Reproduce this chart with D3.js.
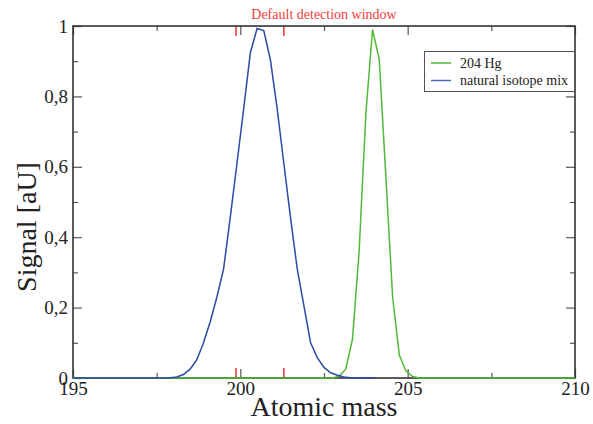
<!DOCTYPE html>
<meta charset="utf-8">
<style>
body { margin: 0; background: #fff; }
svg { display: block; font-family: "Liberation Serif", "DejaVu Serif", serif; }
</style>
<svg width="593" height="424"></svg>
<script src="https://cdn.jsdelivr.net/npm/d3@7"></script>
<script>

// readings (atomic mass, signal)
var mixMass = [195, 197.7, 197.9, 198.1, 198.3, 198.5, 198.7, 198.9, 199.1, 199.3, 199.5, 199.7, 199.9,
               200.1, 200.3, 200.5, 200.7, 200.9, 201.1, 201.3, 201.5, 201.7, 201.9, 202.1, 202.3,
               202.5, 202.7, 202.9, 203.1, 203.3, 203.5, 204];
var mixSignal = [0, 0, 0.001, 0.003, 0.010, 0.025, 0.052, 0.100, 0.160, 0.230, 0.310, 0.457, 0.610,
                 0.765, 0.924, 0.993, 0.987, 0.903, 0.765, 0.610, 0.455, 0.310, 0.205, 0.100, 0.058,
                 0.030, 0.015, 0.008, 0.003, 0.001, 0, 0];

var hgMass = [195, 202.75, 202.95, 203.15, 203.35, 203.55, 203.75, 203.95, 204.15, 204.35, 204.55,
              204.75, 204.95, 205.15, 205.35, 210];
var hgSignal = [0, 0, 0.005, 0.025, 0.110, 0.360, 0.750, 0.990, 0.905, 0.570, 0.230,
                0.065, 0.020, 0.004, 0, 0];

var windowEdges = [199.87, 201.3];

var xMajor = [195, 200, 205, 210],
    xMinor = [197.5, 202.5, 207.5],
    yMajor = [0, 0.2, 0.4, 0.6, 0.8, 1],
    yMinor = [0.1, 0.3, 0.5, 0.7, 0.9];

var svg = d3.select("svg"),
    pL = 73, pR = 575, pT = 26, pB = 378;

var x = d3.scaleLinear().domain([195, 210]).range([pL, pR]),
    y = d3.scaleLinear().domain([0, 1]).range([pB, pT]);

var fmt = function(d) { return String(d).replace(".", ","); };

function styleAxis(g) {
  g.attr("font-family", null).attr("font-size", null);
  g.select(".domain").remove();
  g.selectAll(".tick line").attr("stroke", "#555").attr("stroke-width", 1.2);
  g.selectAll("text").attr("fill", "#222").attr("font-size", 19);
}

// major + minor ticks, all pointing inward
svg.append("g").attr("transform", "translate(0," + pB + ")")
    .call(d3.axisBottom(x).tickValues(xMajor).tickFormat(d3.format("d")).tickSize(-9).tickPadding(4))
    .call(styleAxis);
svg.append("g").attr("transform", "translate(0," + pB + ")")
    .call(d3.axisBottom(x).tickValues(xMinor).tickFormat("").tickSize(-5))
    .call(styleAxis);
svg.append("g").attr("transform", "translate(0," + pT + ")")
    .call(d3.axisTop(x).tickValues(xMajor).tickFormat("").tickSize(-9))
    .call(styleAxis);
svg.append("g").attr("transform", "translate(0," + pT + ")")
    .call(d3.axisTop(x).tickValues(xMinor).tickFormat("").tickSize(-5))
    .call(styleAxis);
svg.append("g").attr("transform", "translate(" + pL + ",0)")
    .call(d3.axisLeft(y).tickValues(yMajor).tickFormat(fmt).tickSize(-9).tickPadding(5))
    .call(styleAxis);
svg.append("g").attr("transform", "translate(" + pL + ",0)")
    .call(d3.axisLeft(y).tickValues(yMinor).tickFormat("").tickSize(-5))
    .call(styleAxis);
svg.append("g").attr("transform", "translate(" + pR + ",0)")
    .call(d3.axisRight(y).tickValues(yMajor).tickFormat("").tickSize(-9))
    .call(styleAxis);
svg.append("g").attr("transform", "translate(" + pR + ",0)")
    .call(d3.axisRight(y).tickValues(yMinor).tickFormat("").tickSize(-5))
    .call(styleAxis);

// detection window marks
windowEdges.forEach(function(m) {
  [[pT, pT + 10], [pB - 10, pB]].forEach(function(s) {
    svg.append("line")
        .attr("x1", x(m)).attr("x2", x(m))
        .attr("y1", s[0]).attr("y2", s[1])
        .attr("stroke", "#f03030").attr("stroke-width", 1.5);
  });
});

svg.append("rect")
    .attr("x", pL).attr("y", pT)
    .attr("width", pR - pL).attr("height", pB - pT)
    .attr("fill", "none").attr("stroke", "#333").attr("stroke-width", 1.6);

var line = d3.line()
    .x(function(d) { return x(d[0]); })
    .y(function(d) { return y(d[1]); });

svg.append("path")
    .datum(d3.zip(hgMass, hgSignal))
    .attr("d", line)
    .attr("fill", "none").attr("stroke", "#4fbb37").attr("stroke-width", 1.5);

svg.append("path")
    .datum(d3.zip(mixMass, mixSignal))
    .attr("d", line)
    .attr("fill", "none").attr("stroke", "#2c4aa6").attr("stroke-width", 1.5);

// title
svg.append("text")
    .attr("x", (pL + pR) / 2).attr("y", 19)
    .attr("text-anchor", "middle").attr("fill", "#f03c3c").attr("font-size", 14)
    .text("Default detection window");

// axis titles
svg.append("text")
    .attr("x", (pL + pR) / 2).attr("y", 416)
    .attr("text-anchor", "middle").attr("fill", "#222").attr("font-size", 28)
    .text("Atomic mass");

svg.append("text")
    .attr("transform", "translate(36,227) rotate(-90)")
    .attr("text-anchor", "middle").attr("fill", "#222").attr("font-size", 28)
    .text("Signal [aU]");

// legend
var legendNames = ["204 Hg", "natural isotope mix"],
    legendColors = ["#4fbb37", "#4a68b8"];

var legend = svg.append("g");
legend.append("rect")
    .attr("x", 424.5).attr("y", 51.5).attr("width", 150).attr("height", 40)
    .attr("fill", "#fff").attr("stroke", "#555").attr("stroke-width", 1);

legendNames.forEach(function(name, i) {
  var ly = 63 + i * 17.5;
  legend.append("line")
      .attr("x1", 431).attr("x2", 451).attr("y1", ly).attr("y2", ly)
      .attr("stroke", legendColors[i]).attr("stroke-width", 1.5);
  legend.append("text")
      .attr("x", 460).attr("y", ly + 4.5)
      .attr("fill", "#222").attr("font-size", 14)
      .text(name);
});

</script>
